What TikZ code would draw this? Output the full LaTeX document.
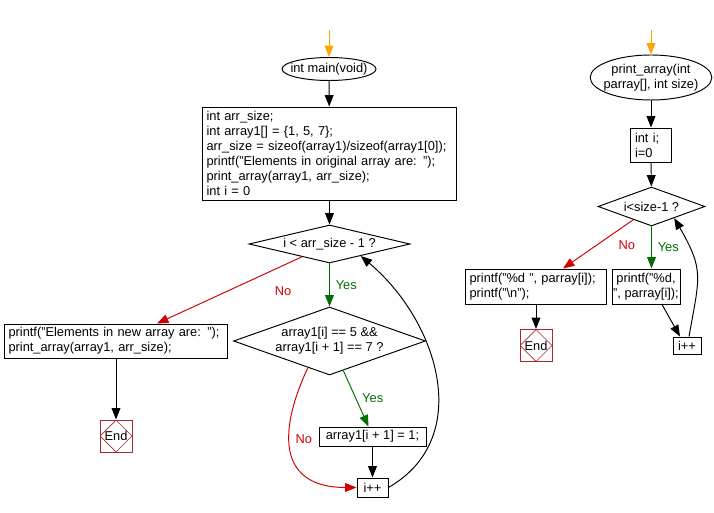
\documentclass[tikz,border=0pt]{standalone}
\usepackage{fontspec}
\setmainfont{Liberation Sans}
\usepackage{tikz}
\usepackage{xcolor}
\usetikzlibrary{arrows.meta,positioning,shapes.geometric}

\definecolor{startorange}{RGB}{255,165,0}
\definecolor{yesgreen}{RGB}{0,110,0}
\definecolor{nored}{RGB}{210,0,0}
\definecolor{endbrown}{RGB}{170,40,40}

\begin{document}
\begin{tikzpicture}[x=0.02cm,y=-0.02cm,>={Triangle[length=6.5pt,width=5pt]},line width=0.55pt,
 every node/.style={font=\fontsize{7.3}{8.5}\selectfont},
 proc/.style={draw,inner sep=0pt,align=center},
 code/.style={draw,inner xsep=2.5pt,inner ysep=0pt,align=left},
 decision/.style={draw,diamond,inner sep=0pt,align=center},
 func/.style={draw,ellipse,inner sep=0pt,align=center},
 endnode/.style={draw=endbrown,minimum size=0.64cm,inner sep=0pt,
  path picture={\draw[endbrown,line width=0.4pt] (path picture bounding box.north) -- (path picture bounding box.east)
  -- (path picture bounding box.south) -- (path picture bounding box.west) -- cycle;}},
 link/.style={->},startlink/.style={->,color=startorange},
 yes/.style={->,color=yesgreen},no/.style={->,color=nored},
 yeslabel/.style={text=yesgreen},nolabel/.style={text=nored}]
 \useasboundingbox (0,0) rectangle (714,513);
 % main
 \coordinate (mainstart) at (329,30);
 \node[func,inner xsep=-3pt,minimum width=1.84cm,minimum height=0.46cm] (main) at (329,69) {int main(void)};
 \node[code,text width=4.92cm,minimum height=1.86cm] (decl) at (329.5,153.5) {int arr\_size;\\
  int array1[] = \{1, 5, 7\};\\
  arr\_size = sizeof(array1)/sizeof(array1[0]);\\
  printf("Elements in original array are: ");\\
  print\_array(array1, arr\_size);\\
  int i = 0};
 \node[decision,aspect=4.2,minimum width=3.22cm,minimum height=0.76cm] (cond1) at (329.5,244) {i < arr\_size - 1 ?};
 \node[decision,aspect=2.8,minimum width=3.84cm,minimum height=1.36cm] (cond2) at (329.5,341) {array1[i] == 5 \&\&\\ array1[i + 1] == 7 ?};
 \node[proc,minimum width=2.14cm,minimum height=0.38cm] (setbox) at (372.5,436.5) {array1[i + 1] = 1;};
 \node[proc,minimum width=0.62cm,minimum height=0.38cm] (inc) at (372.5,487.5) {i++};
 \node[code,text width=4.30cm,minimum height=0.68cm] (newprint) at (116,341) {printf("Elements in new array are: ");\\
  print\_array(array1, arr\_size);};
 \node[endnode] (endl) at (116,436) {End};
 \draw[startlink] (mainstart) -- (main);
 \draw[link] (main) -- (decl);
 \draw[link] (decl) -- (cond1);
 \draw[yes] (cond1) -- node[yeslabel,right] {Yes} (cond2);
 \draw[no] (cond1.205) -- node[nolabel,pos=0.13,below=0.3cm] {No} ([xshift=0.82cm]newprint.north);
 \draw[yes] (cond2.295) -- node[yeslabel,right] {Yes} ([xshift=-0.08cm]setbox.north);
 \draw[no] (cond2.231) to[out=245,in=180,looseness=1.5] node[nolabel,pos=0.4,right] {No} (inc.west);
 \draw[link] (setbox) -- (inc);
 \draw[link] (inc.east) to[out=30,in=-40,looseness=1.1] (cond1.339);
 \draw[link] (newprint) -- (endl);
 % print_array
 \coordinate (pstart) at (651,30);
 \node[func,inner xsep=-2.5pt,minimum width=2.42cm,minimum height=0.9cm] (pmain) at (651,77.5) {print\_array(int\\ parray[], int size)};
 \node[code,text width=0.64cm,minimum height=0.68cm] (pinit) at (651,145) {int i;\\ i=0};
 \node[decision,aspect=2.75,minimum width=2.14cm,minimum height=0.78cm] (cond3) at (651.5,206.5) {i<size-1 ?};
 \node[code,text width=2.66cm,minimum height=0.7cm] (pout) at (536,286.5) {printf("\%d ", parray[i]);\\ printf("\textbackslash n");};
 \node[endnode] (pend) at (536,345.5) {End};
 \node[proc,minimum width=1.36cm,minimum height=0.7cm] (ploop) at (646,286.5) {printf("\%d,\\ ", parray[i]);};
 \node[proc,minimum width=0.56cm,minimum height=0.34cm] (pinc) at (687,345.5) {i++};
 \draw[startlink] (pstart) -- (pmain);
 \draw[link] (pmain) -- (pinit);
 \draw[link] (pinit) -- (cond3);
 \draw[no] (cond3.216) -- node[nolabel,pos=0.3,below right] {No} ([xshift=0.54cm]pout.north);
 \draw[yes] (cond3) -- node[yeslabel,right] {Yes} (cond3 |- ploop.north);
 \draw[link] (pout) -- (pend);
 \draw[link] ([xshift=0.32cm]ploop.south) -- ([xshift=-0.14cm]pinc.north);
 \draw[link] ([xshift=0.04cm]pinc.north) to[out=80,in=-60,looseness=1.3] (cond3.333);
\end{tikzpicture}
\end{document}
